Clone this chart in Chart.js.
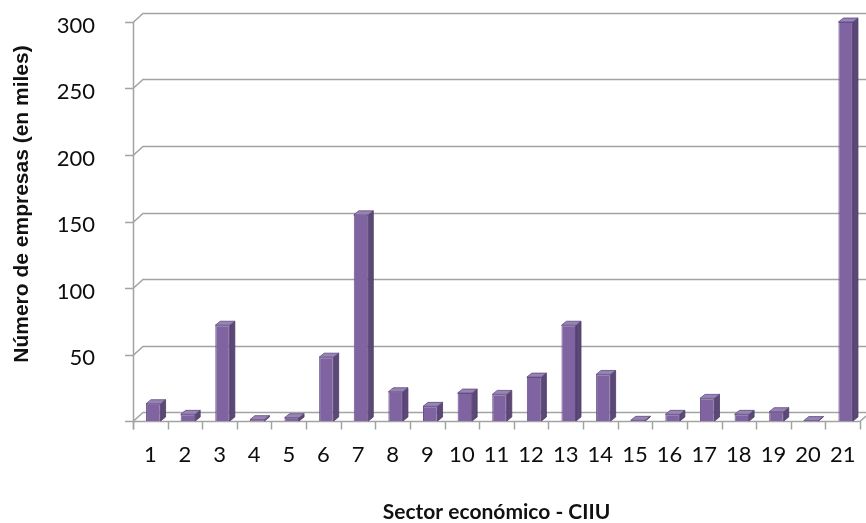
<!DOCTYPE html>
<html>
<head>
<meta charset="utf-8">
<script src="https://cdn.jsdelivr.net/npm/chart.js@4/dist/chart.umd.min.js"></script>
<style>
  html, body { margin: 0; padding: 0; background: #ffffff; }
  #wrap { width: 866px; height: 523px; }
</style>
</head>
<body>
<div id="wrap"><canvas id="c" width="866" height="523"></canvas></div>
<script>
// Sectores económicos (CIIU) y número de empresas, en miles
const categories = ['1','2','3','4','5','6','7','8','9','10','11','12','13','14','15','16','17','18','19','20','21'];
const empresas = [13, 5, 72, 1, 2.5, 48, 155, 22, 11, 21, 20, 33, 72, 35, 0.5, 5, 17, 5, 7, 0.3, 300];
const yTickValues = [0, 50, 100, 150, 200, 250, 300];
const yTitle = 'Número de empresas (en miles)';
const xTitle = 'Sector económico - CIIU';

// Perspective of the back wall and of the column depth
const WALL_DX = 10, WALL_DY = 9;
const BAR_DX = 5, BAR_DY = 4, BAR_SHIFT = 3;
const GRID = '#a3a3a3';

const wallPlugin = {
  id: 'wall',
  beforeDatasetsDraw(chart) {
    const { ctx, chartArea: a, scales: { x, y } } = chart;
    ctx.save();
    ctx.strokeStyle = GRID;
    ctx.lineWidth = 1.5;
    ctx.lineCap = 'butt';
    yTickValues.forEach(v => {
      const py = Math.round(y.getPixelForValue(v)) + 0.5;
      ctx.beginPath();
      ctx.moveTo(a.left - 8, py);
      ctx.lineTo(a.left, py);
      ctx.lineTo(a.left + WALL_DX, py - WALL_DY);
      ctx.lineTo(chart.width, py - WALL_DY);
      ctx.stroke();
    });
    // floor front edge with category ticks
    const base = Math.round(y.getPixelForValue(0)) + 0.5;
    ctx.beginPath();
    ctx.moveTo(a.left, base);
    ctx.lineTo(a.right, base);
    ctx.lineTo(a.right + WALL_DX * 0.6, base - WALL_DY * 0.6);
    ctx.stroke();
    for (let k = 0; k <= categories.length; k++) {
      const px = Math.round(x.getPixelForDecimal(k / categories.length)) + 0.5;
      ctx.beginPath();
      ctx.moveTo(px, base);
      ctx.lineTo(px, base + 8);
      ctx.stroke();
    }
    // front value axis
    const top = y.getPixelForValue(300);
    ctx.beginPath();
    ctx.moveTo(a.left + 0.5, top);
    ctx.lineTo(a.left + 0.5, base + 8);
    ctx.stroke();
    ctx.restore();
  },
  beforeDatasetDraw(chart) {
    chart.ctx.save();
    chart.ctx.translate(BAR_SHIFT, 0);
  },
  afterDatasetDraw(chart) {
    chart.ctx.restore();
  },
  afterDatasetsDraw(chart) {
    const { ctx } = chart;
    const meta = chart.getDatasetMeta(0);
    ctx.save();
    ctx.translate(BAR_SHIFT, 0);
    meta.data.forEach(el => {
      const { x: cx, y: ty, base, width } = el.getProps(['x', 'y', 'base', 'width'], true);
      const l = cx - width / 2, r = cx + width / 2;
      // side face
      ctx.beginPath();
      ctx.moveTo(r, ty);
      ctx.lineTo(r + BAR_DX, ty - BAR_DY);
      ctx.lineTo(r + BAR_DX, base - BAR_DY);
      ctx.lineTo(r, base);
      ctx.closePath();
      ctx.fillStyle = '#5b4878';
      ctx.fill();
      ctx.strokeStyle = '#4b3b63';
      ctx.lineWidth = 0.8;
      ctx.stroke();
      // top face
      ctx.beginPath();
      ctx.moveTo(l, ty);
      ctx.lineTo(l + BAR_DX, ty - BAR_DY);
      ctx.lineTo(r + BAR_DX, ty - BAR_DY);
      ctx.lineTo(r, ty);
      ctx.closePath();
      ctx.fillStyle = '#9783b5';
      ctx.fill();
      ctx.strokeStyle = '#5e4a7c';
      ctx.stroke();
    });
    ctx.restore();
  },
  afterDraw(chart) {
    const { ctx } = chart;
    ctx.save();
    ctx.translate(22, 204);
    ctx.rotate(-Math.PI / 2);
    ctx.font = 'bold 21px "Liberation Sans", Arial, sans-serif';
    ctx.fillStyle = '#111111';
    ctx.textAlign = 'center';
    ctx.textBaseline = 'middle';
    ctx.fillText(yTitle, 0, 0);
    ctx.restore();
  }
};

new Chart(document.getElementById('c'), {
  type: 'bar',
  data: {
    labels: categories,
    datasets: [{
      data: empresas,
      backgroundColor: '#8064a2',
      borderColor: '#6a5189',
      borderWidth: 1,
      barPercentage: 0.42,
      categoryPercentage: 1.0
    }]
  },
  options: {
    responsive: false,
    devicePixelRatio: 1,
    animation: false,
    layout: { padding: { top: 22, right: 6, left: 0, bottom: 0 } },
    plugins: { legend: { display: false }, tooltip: { enabled: false } },
    scales: {
      x: {
        offset: true,
        grid: { display: false },
        border: { display: false },
        ticks: {
          color: '#0d0d0d',
          font: { family: 'Lato', size: 22 },
          padding: 13,
          maxRotation: 0,
          autoSkip: false
        },
        title: {
          display: true,
          text: xTitle,
          color: '#111111',
          font: { family: 'Lato', size: 21, weight: 'bold' },
          padding: { top: 0, bottom: -2 }
        },
        afterFit(scale) {
          scale.height = 102;
          scale.paddingLeft = 0;
          scale.paddingRight = 0;
        }
      },
      y: {
        min: 0,
        max: 300,
        grid: { display: false },
        border: { display: false },
        afterBuildTicks(scale) { scale.ticks = yTickValues.map(v => ({ value: v })); },
        ticks: {
          color: '#0d0d0d',
          font: { family: 'Lato', size: 22 },
          padding: 30,
          labelOffset: 3.5,
          callback: v => (v === 0 ? '' : String(v))
        },
        afterFit(scale) {
          scale.width = 133;
          scale.paddingTop = 0;
          scale.paddingBottom = 0;
        }
      }
    }
  },
  plugins: [wallPlugin]
});
</script>
</body>
</html>
